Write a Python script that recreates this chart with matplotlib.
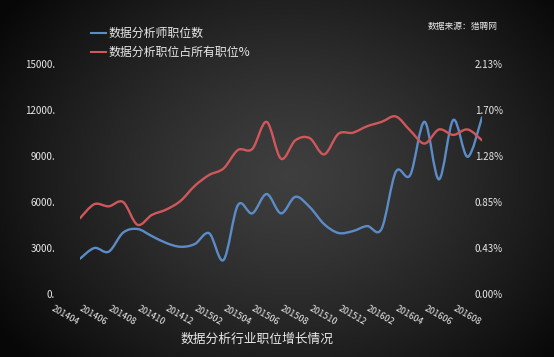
import numpy as np
import matplotlib.pyplot as plt
from matplotlib.path import Path
from matplotlib.patches import PathPatch
from matplotlib.lines import Line2D

plt.rcParams['font.family'] = ['Noto Sans CJK SC', 'DejaVu Sans']

# 月份 (201404 - 201608)
months = ['201404', '201405', '201406', '201407', '201408', '201409', '201410',
          '201411', '201412', '201501', '201502', '201503', '201504', '201505',
          '201506', '201507', '201508', '201509', '201510', '201511', '201512',
          '201601', '201602', '201603', '201604', '201605', '201606', '201607',
          '201608']

# 数据分析师职位数
jobs = [2300, 3000, 2760, 4000, 4240, 3780, 3330, 3080, 3260, 3960,
        2220, 5800, 5260, 6520, 5260, 6340, 5670, 4560, 3980, 4100,
        4430, 4240, 7970, 7760, 11230, 7480, 11350, 8950, 11520]

# 数据分析职位占所有职位% 
share = [0.70, 0.83, 0.81, 0.85, 0.64, 0.73, 0.78, 0.86, 1.00, 1.10,
         1.16, 1.33, 1.34, 1.59, 1.25, 1.42, 1.44, 1.29, 1.48, 1.49,
         1.55, 1.59, 1.64, 1.51, 1.39, 1.52, 1.47, 1.52, 1.42]

left_ticks = [0, 3000, 6000, 9000, 12000, 15000]
left_labels = ['0.', '3000.', '6000.', '9000.', '12000.', '15000.']
right_ticks = [0, 0.425, 0.85, 1.275, 1.70, 2.125]
right_labels = ['0.00%', '0.43%', '0.85%', '1.28%', '1.70%', '2.13%']

blue = '#5b8cc8'
red = '#d0575a'
txt = '#e8e8e8'


def smooth_path(xs, ys):
    # Excel 风格平滑线 (Catmull-Rom -> Bezier)
    p = np.column_stack([xs, ys]).astype(float)
    verts = [p[0]]
    codes = [Path.MOVETO]
    n = len(p)
    for i in range(n - 1):
        p0 = p[i - 1] if i > 0 else p[i]
        p3 = p[i + 2] if i + 2 < n else p[i + 1]
        c1 = p[i] + (p[i + 1] - p0) / 6
        c2 = p[i + 1] - (p3 - p[i]) / 6
        verts += [c1, c2, p[i + 1]]
        codes += [Path.CURVE4] * 3
    return Path(verts, codes)


fig = plt.figure(figsize=(5.54, 3.57), dpi=100)

# 背景渐变
bg = fig.add_axes([0, 0, 1, 1])
yy, xx = np.mgrid[0:357, 0:554]
r = np.sqrt(((xx - 290) / 330.0) ** 2 + ((yy - 175) / 260.0) ** 2)
g = np.clip(0.245 - 0.2 * r ** 1.3, 0.03, 1)
bg.imshow(np.dstack([g, g, g]), aspect='auto', extent=[0, 1, 0, 1])
bg.axis('off')

ax = fig.add_axes([80 / 554, 1 - 294 / 357, 402 / 554, 230 / 357])
ax.patch.set_alpha(0)
ax2 = ax.twinx()

x = np.arange(len(months))
ax.add_patch(PathPatch(smooth_path(x, jobs), fill=False, ec=blue, lw=1.7,
                       capstyle='round'))
ax2.add_patch(PathPatch(smooth_path(x, share), fill=False, ec=red, lw=1.7,
                        capstyle='round'))

ax.set_xlim(0, len(months) - 1)
ax.set_ylim(0, 15000)
ax2.set_ylim(0, 2.125)

ax.set_xticks(x[::2])
ax.set_xticklabels(months[::2], rotation=-30, ha='right', fontsize=6.5,
                   color=txt)
ax.set_yticks(left_ticks)
ax.set_yticklabels(left_labels, fontsize=7, color=txt)
ax2.set_yticks(right_ticks)
ax2.set_yticklabels(right_labels, fontsize=7, color=txt, ha='right')

ax.tick_params(axis='x', length=0, pad=7)
ax.tick_params(axis='y', length=0, pad=18)
ax2.tick_params(axis='y', length=0, pad=15)
for a in (ax, ax2):
    for s in a.spines.values():
        s.set_visible(False)

handles = [Line2D([], [], color=blue, lw=1.5), Line2D([], [], color=red, lw=1.5)]
fig.legend(handles, ['数据分析师职位数', '数据分析职位占所有职位%'],
           loc='upper left', bbox_to_anchor=(80 / 554, 1 - 16 / 357),
           frameon=False, fontsize=8.6, labelcolor=txt, handlelength=1.3,
           handletextpad=0.15, labelspacing=0.55)

fig.text(498 / 554, 1 - 27 / 357, '数据来源：猎聘网', ha='right', va='center',
         fontsize=6.3, color=txt)
fig.text(257 / 554, 1 - 339 / 357, '数据分析行业职位增长情况', ha='center',
         va='center', fontsize=9.2, color=txt)

fig.savefig('out.png', dpi=100)
